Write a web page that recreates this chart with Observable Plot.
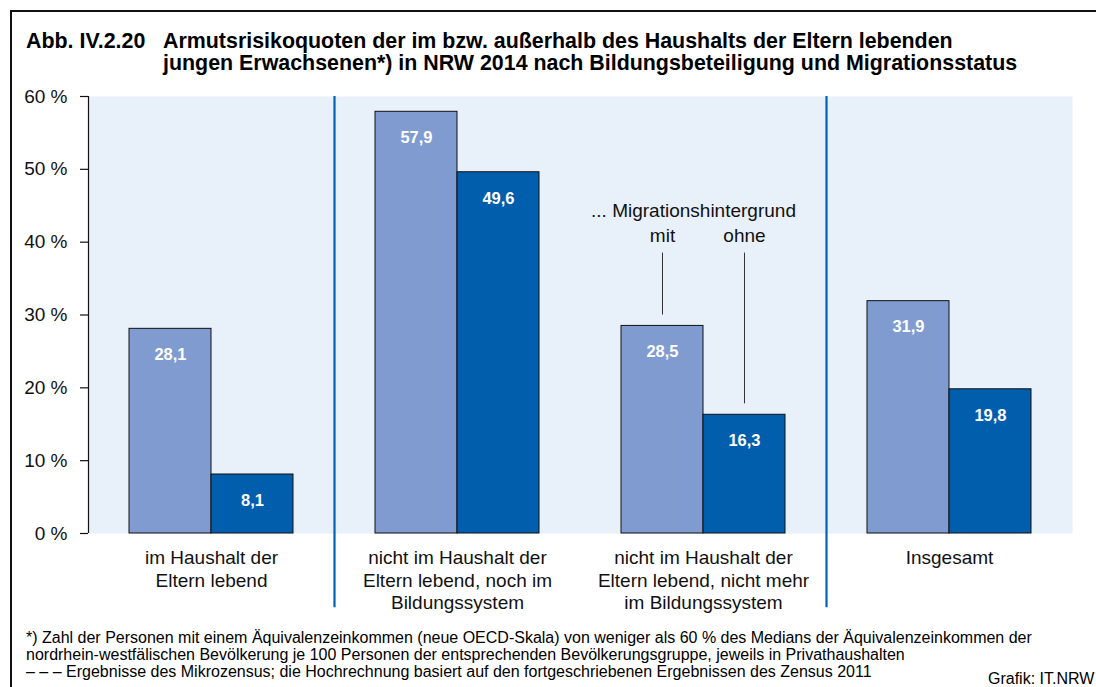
<!DOCTYPE html>
<html>
<head>
<meta charset="utf-8">
<script src="https://cdn.jsdelivr.net/npm/d3@7"></script>
<script src="https://cdn.jsdelivr.net/npm/@observablehq/plot@0.6"></script>
<style>
  html, body { margin: 0; padding: 0; background: #fff; overflow: hidden; }
  body { width: 1096px; height: 687px; position: relative; font-family: "Liberation Sans", Arial, sans-serif; color: #000; }
  #frameTop { position: absolute; left: 10px; top: 10px; width: 1086px; height: 2px; background: #111; }
  #frameLeft { position: absolute; left: 10px; top: 10px; width: 2px; height: 677px; background: #111; }
  .title { position: absolute; font-weight: bold; font-size: 21.4px; line-height: 22px; white-space: nowrap; }
  #chart { position: absolute; left: 0; top: 80px; }
  .foot { position: absolute; left: 26px; font-size: 16px; line-height: 17px; white-space: nowrap; }
</style>
</head>
<body>
<div id="frameTop"></div>
<div id="frameLeft"></div>
<div class="title" style="left:26px; top:29.5px;">Abb. IV.2.20</div>
<div class="title" style="left:163px; top:29.5px;">Armutsrisikoquoten der im bzw. außerhalb des Haushalts der Eltern lebenden</div>
<div class="title" style="left:163px; top:51.5px;">jungen Erwachsenen*) in NRW 2014 nach Bildungsbeteiligung und Migrationsstatus</div>
<div id="chart"></div>
<div class="foot" style="top:629px;">*) Zahl der Personen mit einem Äquivalenzeinkommen (neue OECD-Skala) von weniger als 60 % des Medians der Äquivalenzeinkommen der</div>
<div class="foot" style="top:646px;">nordrhein-westfälischen Bevölkerung je 100 Personen der entsprechenden Bevölkerungsgruppe, jeweils in Privathaushalten</div>
<div class="foot" style="top:663px;">– – – Ergebnisse des Mikrozensus; die Hochrechnung basiert auf den fortgeschriebenen Ergebnissen des Zensus 2011</div>
<div class="foot" style="left:988px; top:670px;">Grafik: IT.NRW</div>
<script>
const categories = [
  "im Haushalt der\nEltern lebend",
  "nicht im Haushalt der\nEltern lebend, noch im\nBildungssystem",
  "nicht im Haushalt der\nEltern lebend, nicht mehr\nim Bildungssystem",
  "Insgesamt"
];
const series = ["mit", "ohne"];
const valuesMit = [28.1, 57.9, 28.5, 31.9];
const valuesOhne = [8.1, 49.6, 16.3, 19.8];
const yTicks = [0, 10, 20, 30, 40, 50, 60];
const separators = [0.5, 2.5];
const annotationGroup = 2;

const colors = { mit: "#7F9BD0", ohne: "#005EAD" };
const fmt = v => v.toFixed(1).replace(".", ",");

const bars = [];
categories.forEach((c, i) => {
  bars.push({ group: i, series: "mit", value: valuesMit[i], x1: i - 1/3, x2: i });
  bars.push({ group: i, series: "ohne", value: valuesOhne[i], x1: i, x2: i + 1/3 });
});

const annBars = bars.filter(d => d.group === annotationGroup);

const plot = Plot.plot({
  width: 1096,
  height: 538,
  marginLeft: 88,
  marginRight: 24,
  marginTop: 16,
  marginBottom: 85,
  style: { fontFamily: "'Liberation Sans', Arial, sans-serif", background: "transparent", overflow: "visible" },
  x: { domain: [-0.5, 3.5], axis: null },
  y: { domain: [0, 60], axis: null },
  marks: [
    Plot.frame({ fill: "#E8F0FA", stroke: "none" }),
    Plot.rectY(bars, {
      x1: "x1", x2: "x2", y1: 0, y2: "value",
      fill: d => colors[d.series], stroke: "#111", strokeWidth: 1
    }),
    Plot.text(bars, {
      x: d => (d.x1 + d.x2) / 2, y: "value", text: d => fmt(d.value),
      dy: 26, fill: "white", fontWeight: "bold", fontSize: 16.5
    }),
    Plot.ruleX(separators, { y1: 60, y2: -10.2, stroke: "#0063B4", strokeWidth: 2.2, clip: false }),
    Plot.ruleX([-0.5], { y1: 0, y2: 60, stroke: "#111", strokeWidth: 1.2 }),
    Plot.axisY({
      ticks: yTicks, tickFormat: d => d + " %", tickSize: 8, tickPadding: 13,
      fontSize: 19, stroke: "#111", strokeWidth: 1.2, fill: "#111", label: null
    }),
    Plot.axisX({
      ticks: categories.map((c, i) => i), tickFormat: i => categories[i],
      anchor: "bottom", tickSize: 0, tickPadding: 15, fontSize: 19,
      lineHeight: 1.18, fill: "#111", label: null
    }),
    Plot.text(["... Migrationshintergrund"], {
      x: annotationGroup, y: 38.5, dx: -10, dy: -42.5, text: d => d,
      fontSize: 19, fill: "#111"
    }),
    Plot.text(annBars, {
      x: d => (d.x1 + d.x2) / 2, y: 38.5, dy: -17, text: "series",
      fontSize: 19, fill: "#111"
    }),
    Plot.ruleX(annBars, {
      x: d => (d.x1 + d.x2) / 2, y1: 38.5, y2: d => d.value + 1.5,
      stroke: "#333", strokeWidth: 1
    })
  ]
});
document.getElementById("chart").appendChild(plot);
</script>
</body>
</html>
